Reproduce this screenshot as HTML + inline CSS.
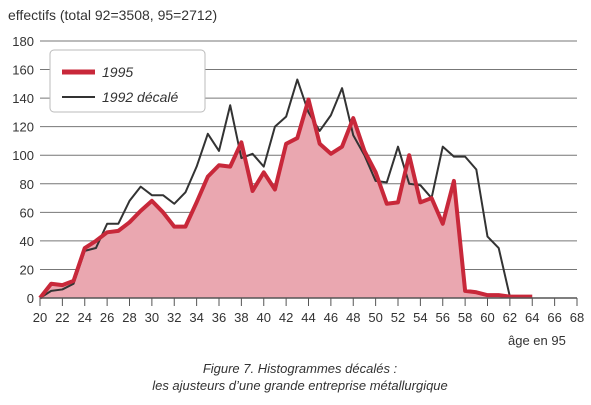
<!DOCTYPE html>
<html><head><meta charset="utf-8"><style>
body{margin:0;background:#fff;}
svg{display:block;font-family:"Liberation Sans",sans-serif;}
</style></head><body>
<svg width="591" height="405">
<g id="grid"></g><g id="marks"></g><g id="axes"></g>
<text x="8" y="20" font-size="14" fill="#333">effectifs (total 92=3508, 95=2712)</text>
<text x="508" y="345" font-size="13" fill="#333">âge en 95</text>
<g>
<rect x="50" y="50" width="155" height="62" rx="4" fill="#fff" stroke="#bbb"/>
<line x1="62" y1="72" x2="95" y2="72" stroke="#c8283a" stroke-width="5"/>
<text x="102" y="77" font-size="14" font-style="italic" fill="#333">1995</text>
<line x1="62" y1="97" x2="95" y2="97" stroke="#333" stroke-width="2"/>
<text x="102" y="102" font-size="14" font-style="italic" fill="#333">1992 décalé</text>
</g>
<text x="300" y="373" font-size="13" font-style="italic" fill="#333" text-anchor="middle">Figure 7.  Histogrammes décalés :</text>
<text x="300" y="390" font-size="13" font-style="italic" fill="#333" text-anchor="middle">les ajusteurs d’une grande entreprise métallurgique</text>
</svg>
<script>
const ages=[20,21,22,23,24,25,26,27,28,29,30,31,32,33,34,35,36,37,38,39,40,41,42,43,44,45,46,47,48,49,50,51,52,53,54,55,56,57,58,59,60,61,62,63,64];
const y1995=[0,10,9,12,35,40,46,47,53,61,68,60,50,50,67,85,93,92,109,75,88,76,108,112,139,108,101,106,126,103,88,66,67,100,67,70,52,82,5,4,2,2,1,1,1];
const y1992=[0,5,6,10,33,35,52,52,68,78,72,72,66,74,92,115,103,135,98,101,92,120,127,153,130,117,128,147,114,100,82,81,106,80,79,70,106,99,99,90,43,35,1,1,1];
const yTicks=[0,20,40,60,80,100,120,140,160,180];
const xTicks=[20,22,24,26,28,30,32,34,36,38,40,42,44,46,48,50,52,54,56,58,60,62,64,66,68];
const X=a=>40+(a-20)*537/48, Y=v=>298-v*257/180;
const NS="http://www.w3.org/2000/svg";
function mk(p,t,at){const e=document.createElementNS(NS,t);for(const k in at)e.setAttribute(k,at[k]);p.appendChild(e);return e;}
const grid=document.getElementById('grid'),marks=document.getElementById('marks'),axes=document.getElementById('axes');
yTicks.forEach(v=>{
 const l=mk(grid,'line',{x1:40,x2:577,y1:Y(v),y2:Y(v),stroke:'#777','stroke-width':1});
 
 
 const t=mk(axes,'text',{x:34,y:Y(v)+5,'font-size':13,fill:'#333','text-anchor':'end'});t.textContent=v;
 
 
});
xTicks.forEach(v=>{
 mk(axes,'line',{x1:X(v),x2:X(v),y1:298,y2:306,stroke:'#555'});
 const t=mk(axes,'text',{x:X(v),y:322,'font-size':13,fill:'#333','text-anchor':'middle'});t.textContent=v;
 
 
});
const p95=ages.map((a,i)=>X(a)+','+Y(y1995[i])).join(' ');
const area=mk(marks,'polygon',{points:X(20)+','+Y(0)+' '+p95+' '+X(64)+','+Y(0),fill:'#eaa7b0'});


const l92=mk(marks,'polyline',{points:ages.slice(0,43).map((a,i)=>X(a)+','+Y(y1992[i])).join(' '),fill:'none',stroke:'#333','stroke-width':2,'stroke-linejoin':'round'});


const l95=mk(marks,'polyline',{points:p95,fill:'none',stroke:'#c8283a','stroke-width':4,'stroke-linejoin':'round'});


mk(axes,'line',{x1:40,x2:577,y1:298,y2:298,stroke:'#555','stroke-width':1.5});
</script>
</body></html>
